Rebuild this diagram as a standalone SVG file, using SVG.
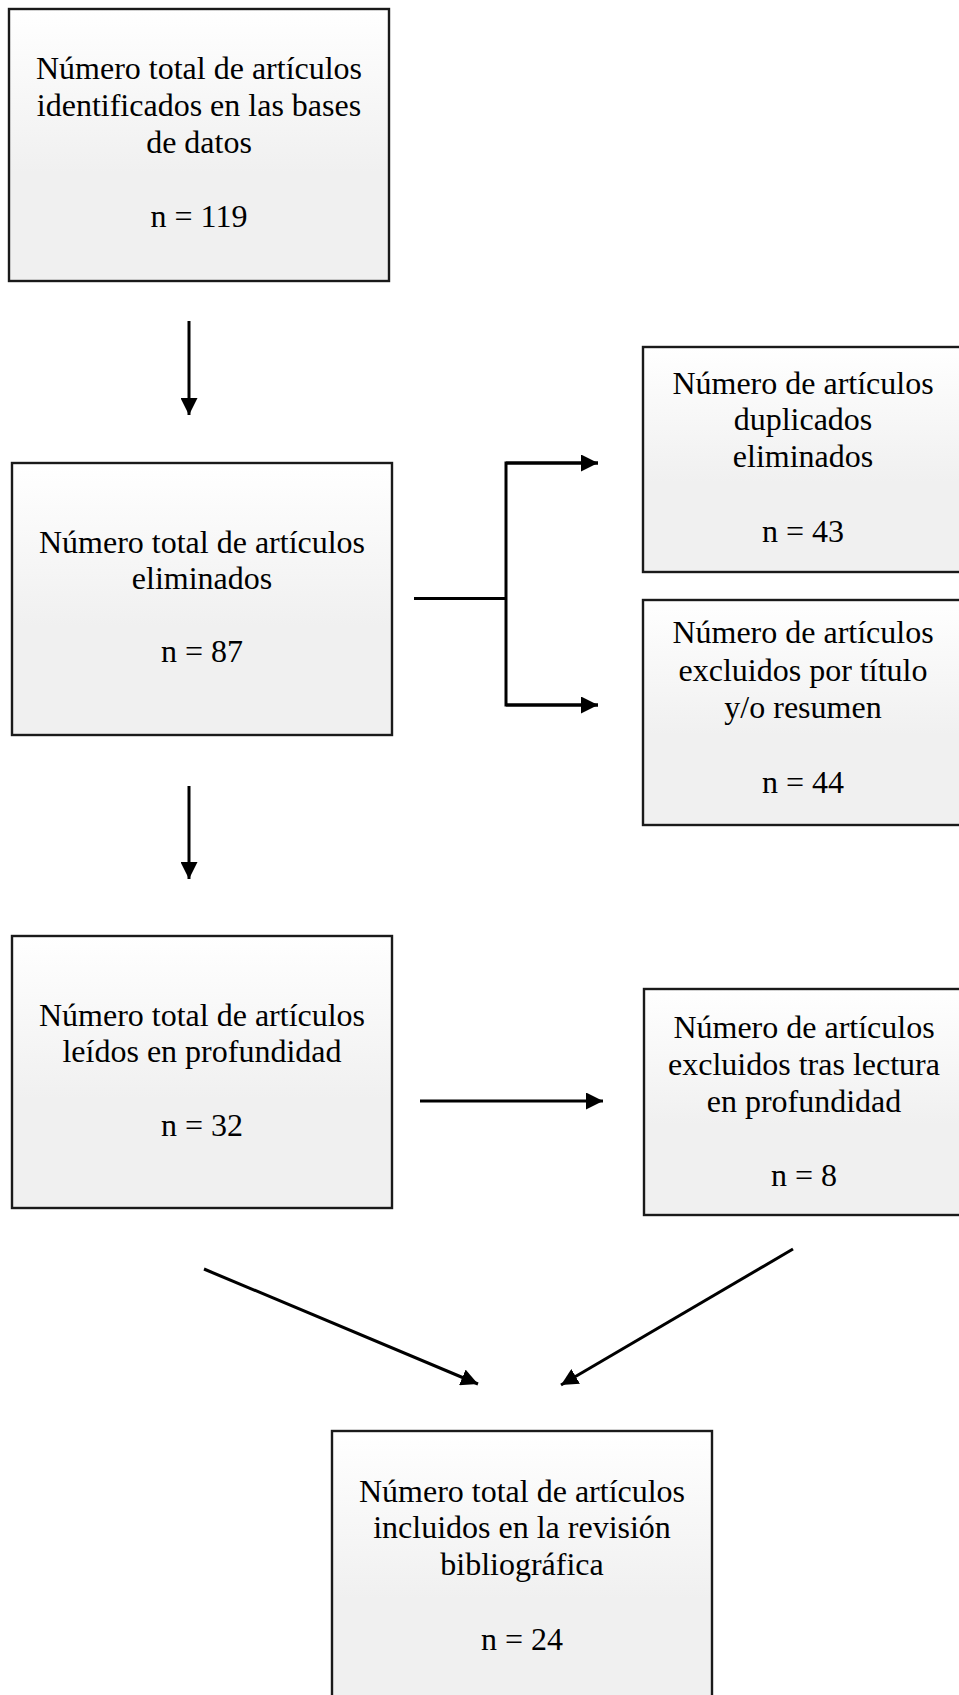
<svg xmlns="http://www.w3.org/2000/svg" width="959" height="1695" viewBox="0 0 959 1695">
<defs>
<linearGradient id="g" x1="0" y1="0" x2="0" y2="1">
<stop offset="0" stop-color="#ffffff"/>
<stop offset="0.6" stop-color="#f0f0f0"/>
<stop offset="1" stop-color="#f0f0f0"/>
</linearGradient>
<marker id="ah" markerWidth="17" markerHeight="17" viewBox="0 0 17 17" refX="17" refY="8.5" orient="auto" markerUnits="userSpaceOnUse">
<path d="M0,0 L17,8.5 L0,17 Z" fill="#000"/>
</marker>
<style>
.box{fill:url(#g);stroke:#1a1a1a;stroke-width:2.4}
.t{font-family:"Liberation Serif","Times New Roman",serif;font-size:32px;fill:#000;text-anchor:middle}
.c{fill:none;stroke:#000;stroke-width:3}
</style>
</defs>
<rect width="959" height="1695" fill="#fff"/>
<g id="n1">
<rect class="box" x="9" y="9" width="380" height="272"/>
<text class="t" x="199" y="79">Número total de artículos</text>
<text class="t" x="199" y="116">identificados en las bases</text>
<text class="t" x="199" y="153">de datos</text>
<text class="t" x="199" y="227">n = 119</text>
</g>
<g id="n2">
<rect class="box" x="12" y="463" width="380" height="272"/>
<text class="t" x="202" y="553">Número total de artículos</text>
<text class="t" x="202" y="589">eliminados</text>
<text class="t" x="202" y="662">n = 87</text>
</g>
<g id="n3">
<rect class="box" x="643" y="347" width="322" height="225"/>
<text class="t" x="803" y="394">Número de artículos</text>
<text class="t" x="803" y="430">duplicados</text>
<text class="t" x="803" y="467">eliminados</text>
<text class="t" x="803" y="542">n = 43</text>
</g>
<g id="n4">
<rect class="box" x="643" y="600" width="322" height="225"/>
<text class="t" x="803" y="643">Número de artículos</text>
<text class="t" x="803" y="681">excluidos por título</text>
<text class="t" x="803" y="718">y/o resumen</text>
<text class="t" x="803" y="793">n = 44</text>
</g>
<g id="n5">
<rect class="box" x="12" y="936" width="380" height="272"/>
<text class="t" x="202" y="1026">Número total de artículos</text>
<text class="t" x="202" y="1062">leídos en profundidad</text>
<text class="t" x="202" y="1136">n = 32</text>
</g>
<g id="n6">
<rect class="box" x="644" y="989" width="322" height="226"/>
<text class="t" x="804" y="1038">Número de artículos</text>
<text class="t" x="804" y="1075">excluidos tras lectura</text>
<text class="t" x="804" y="1112">en profundidad</text>
<text class="t" x="804" y="1186">n = 8</text>
</g>
<g id="n7">
<rect class="box" x="332" y="1431" width="380" height="280"/>
<text class="t" x="522" y="1502">Número total de artículos</text>
<text class="t" x="522" y="1538">incluidos en la revisión</text>
<text class="t" x="522" y="1575">bibliográfica</text>
<text class="t" x="522" y="1650">n = 24</text>
</g>
<g id="connectors">
<line class="c" x1="189" y1="321" x2="189" y2="415" marker-end="url(#ah)"/>
<line class="c" x1="414" y1="598.5" x2="506" y2="598.5"/>
<polyline class="c" points="598,463 506,463 506,705 598,705"/>
<line class="c" x1="506" y1="463" x2="598" y2="463" marker-end="url(#ah)"/>
<line class="c" x1="506" y1="705" x2="598" y2="705" marker-end="url(#ah)"/>
<line class="c" x1="189" y1="786" x2="189" y2="879" marker-end="url(#ah)"/>
<line class="c" x1="420" y1="1101" x2="603" y2="1101" marker-end="url(#ah)"/>
<line class="c" x1="204" y1="1269" x2="478" y2="1384" marker-end="url(#ah)"/>
<line class="c" x1="793" y1="1249" x2="561" y2="1385" marker-end="url(#ah)"/>
</g>
</svg>
